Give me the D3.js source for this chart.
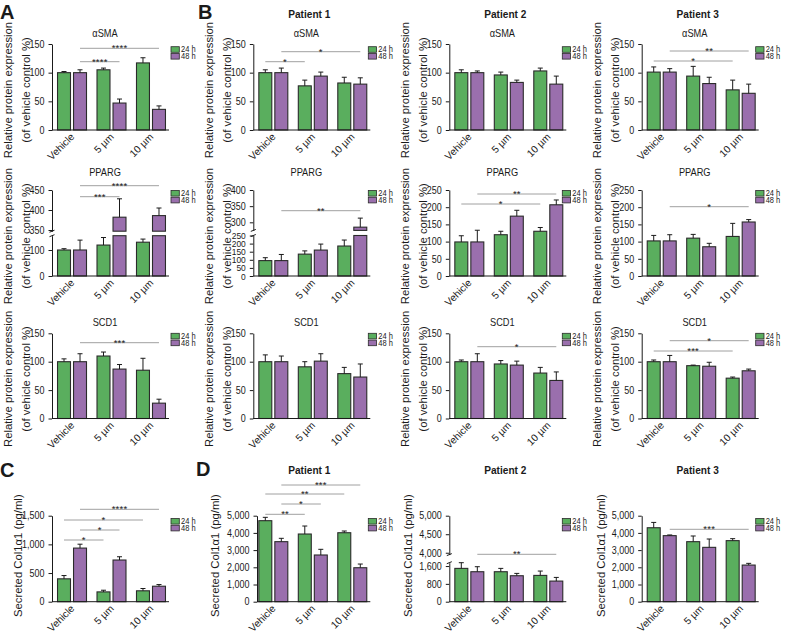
<!DOCTYPE html>
<html><head><meta charset="utf-8">
<script src="https://cdn.jsdelivr.net/npm/d3@7"></script>
<style>
body{margin:0;background:#fff}
svg{display:block}
text{font-family:"Liberation Sans",Arial,Helvetica,sans-serif;fill:#1a1a1a}
</style>
</head><body>
<svg id="c" width="787" height="639"></svg>
<script>
// ---------------- DATA ----------------
const categories = ["Vehicle", "5 µm", "10 µm"];
const seriesNames = ["24 h", "48 h"];
// means / errors: per category [24 h, 48 h]; sig: [fromBar, toBar, label], bar = categoryIndex*2 + seriesIndex
const A_aSMA_mean = [[100,100],[105,47],[117,36]];
const A_aSMA_err  = [[2,5],[3,7],[9,6]];
const A_aSMA_sig  = [[1,3,"****"],[1,5,"****"]];

const A_PPARG_mean = [[100,100],[119,382],[130,386]];
const A_PPARG_err  = [[5,38],[29,46],[12,19]];
const A_PPARG_sig  = [[1,3,"***"],[1,5,"****"]];

const A_SCD1_mean = [[100,100],[110,87],[85,27]];
const A_SCD1_err  = [[5,14],[7,8],[21,7]];
const A_SCD1_sig  = [[1,5,"***"]];

const P1_aSMA_mean = [[100,100],[77,94],[82,80]];
const P1_aSMA_err  = [[5,8],[10,7],[10,11]];
const P1_aSMA_sig  = [[0,2,"*"],[1,5,"*"]];

const P1_PPARG_mean = [[95,95],[135,160],[185,285]];
const P1_PPARG_err  = [[18,38],[20,37],[37,28]];
const P1_PPARG_sig  = [[1,5,"**"]];

const P1_SCD1_mean = [[100,100],[91,101],[79,73]];
const P1_SCD1_err  = [[12,10],[9,13],[11,23]];
const P1_SCD1_sig  = [];

const P2_aSMA_mean = [[100,100],[96,83],[103,80]];
const P2_aSMA_err  = [[5,3],[5,4],[5,14]];
const P2_aSMA_sig  = [];

const P2_PPARG_mean = [[99,99],[120,174],[130,207]];
const P2_PPARG_err  = [[18,34],[10,17],[11,14]];
const P2_PPARG_sig  = [[0,4,"*"],[1,5,"**"]];

const P2_SCD1_mean = [[100,100],[96,94],[80,67]];
const P2_SCD1_err  = [[3,14],[6,7],[10,15]];
const P2_SCD1_sig  = [[1,5,"*"]];

const P3_aSMA_mean = [[101,101],[94,81],[70,64]];
const P3_aSMA_err  = [[9,6],[17,11],[17,16]];
const P3_aSMA_sig  = [[0,4,"*"],[1,5,"**"]];

const P3_PPARG_mean = [[102,102],[110,85],[115,157]];
const P3_PPARG_err  = [[16,18],[11,10],[38,7]];
const P3_PPARG_sig  = [[1,5,"*"]];

const P3_SCD1_mean = [[100,100],[93,92],[71,84]];
const P3_SCD1_err  = [[3,11],[1,7],[2,3]];
const P3_SCD1_sig  = [[0,4,"***"],[1,5,"*"]];

const C_Col_mean = [[399,935],[171,727],[190,270]];
const C_Col_err  = [[57,68],[29,57],[40,29]];
const C_Col_sig  = [[0,2,"*"],[1,3,"*"],[0,4,"*"],[1,5,"****"]];

const D1_Col_mean = [[4710,3490],[3935,2715],[4010,1975]];
const D1_Col_err  = [[195,195],[465,330],[100,215]];
const D1_Col_sig  = [[0,2,"**"],[1,3,"*"],[0,4,"**"],[1,5,"***"]];

const D2_Col_mean = [[1495,1345],[1345,1165],[1180,925]];
const D2_Col_err  = [[255,225],[150,105],[195,165]];
const D2_Col_sig  = [[1,5,"**"]];

const D3_Col_mean = [[4300,3840],[3490,3160],[3550,2130]];
const D3_Col_err  = [[310,40],[330,485],[115,100]];
const D3_Col_sig  = [[1,5,"***"]];

const ticks150 = [0,50,100,150];
const ticks250 = [0,50,100,150,200,250];
const ticks5000 = [0,1000,2000,3000,4000,5000];
const ticksC = [0,500,1000,1500];

// ---------------- LAYOUT ----------------
const GREEN = "#5aae5e", PURPLE = "#9a6fad";
const colors = [GREEN, PURPLE];
const SX = 0.88; // horizontal condensation of the reference lettering
const colX = [52, 253.3, 449.3, 641.7];
const legendDX = [119, 115, 113, 114];
const rows = [
  {top:44, bottom:130, titleY:33.5, legY:46.7},
  {top:190, bottom:276, titleY:172.5, legY:190.5},
  {top:333.3, bottom:418.5, titleY:322, legY:333.3},
  {top:515.7, bottom:601.7, titleY:null, legY:518.5}
];
const ylabX1 = [18.3, 215, 407.5, 601];

const panels = [
  {row:0,col:0,title:"αSMA",mean:A_aSMA_mean,err:A_aSMA_err,sig:A_aSMA_sig,sigY:[61.7,48.3],max:150,ticks:ticks150},
  {row:1,col:0,title:"PPARG",mean:A_PPARG_mean,err:A_PPARG_err,sig:A_PPARG_sig,sigY:[196.7,185.7],
     broken:{lower:[0,155],lowerTop:235.7,upper:[347,450],upperBottom:231.2,lowerTicks:[0,100],upperTicks:[350,400,450]}},
  {row:2,col:0,title:"SCD1",mean:A_SCD1_mean,err:A_SCD1_err,sig:A_SCD1_sig,sigY:[342.7],max:150,ticks:ticks150},
  {row:0,col:1,title:"αSMA",mean:P1_aSMA_mean,err:P1_aSMA_err,sig:P1_aSMA_sig,sigY:[61.7,51.7],max:150,ticks:ticks150},
  {row:1,col:1,title:"PPARG",mean:P1_PPARG_mean,err:P1_PPARG_err,sig:P1_PPARG_sig,sigY:[210.7],
     broken:{lower:[0,250],lowerTop:235.5,upper:[275,400],upperBottom:230.4,lowerTicks:ticks250,upperTicks:[300,350,400]}},
  {row:2,col:1,title:"SCD1",mean:P1_SCD1_mean,err:P1_SCD1_err,sig:P1_SCD1_sig,sigY:[],max:150,ticks:ticks150},
  {row:0,col:2,title:"αSMA",mean:P2_aSMA_mean,err:P2_aSMA_err,sig:P2_aSMA_sig,sigY:[],max:150,ticks:ticks150},
  {row:1,col:2,title:"PPARG",mean:P2_PPARG_mean,err:P2_PPARG_err,sig:P2_PPARG_sig,sigY:[204,194],max:250,ticks:ticks250},
  {row:2,col:2,title:"SCD1",mean:P2_SCD1_mean,err:P2_SCD1_err,sig:P2_SCD1_sig,sigY:[346.7],max:150,ticks:ticks150},
  {row:0,col:3,title:"αSMA",mean:P3_aSMA_mean,err:P3_aSMA_err,sig:P3_aSMA_sig,sigY:[61,51],max:150,ticks:ticks150},
  {row:1,col:3,title:"PPARG",mean:P3_PPARG_mean,err:P3_PPARG_err,sig:P3_PPARG_sig,sigY:[206.7],max:250,ticks:ticks250},
  {row:2,col:3,title:"SCD1",mean:P3_SCD1_mean,err:P3_SCD1_err,sig:P3_SCD1_sig,sigY:[351,340.7],max:150,ticks:ticks150},
  {row:3,col:0,mean:C_Col_mean,err:C_Col_err,sig:C_Col_sig,sigY:[540,530,520,509.3],max:1500,ticks:ticksC,fmt:","},
  {row:3,col:1,axisX:257,mean:D1_Col_mean,err:D1_Col_err,sig:D1_Col_sig,sigY:[514.3,504,494,485],max:5000,ticks:ticks5000,fmt:","},
  {row:3,col:2,mean:D2_Col_mean,err:D2_Col_err,sig:D2_Col_sig,sigY:[554.3],fmt:",",
     broken:{lower:[0,1750],lowerTop:562.7,upper:[3950,5000],upperBottom:554.6,lowerTicks:[0,800,1600],upperTicks:[4000,4500,5000]}},
  {row:3,col:3,mean:D3_Col_mean,err:D3_Col_err,sig:D3_Col_sig,sigY:[529.3],max:5000,ticks:ticks5000,fmt:","}
];

const svg = d3.select("#c");
const AX = "#1a1a1a";

function htext(g, x, y, str, size, anchor, weight) {
  return g.append("text").attr("transform", `translate(${x},${y}) scale(${SX},1)`)
    .attr("text-anchor", anchor || "middle").attr("dominant-baseline", "central")
    .attr("font-size", size).attr("font-weight", weight || "normal").text(str);
}

function styleAxis(sel, size) {
  sel.select(".domain").attr("stroke", AX);
  sel.selectAll(".tick line").attr("stroke", AX);
  sel.selectAll(".tick text").attr("font-size", size || 10.2).attr("fill", "#222")
    .attr("font-family", '"Liberation Sans",Arial,sans-serif')
    .attr("x", -7.5 / SX).attr("transform", `scale(${SX},1)`);
}

function drawPanel(p) {
  const r = rows[p.row], cx = colX[p.col];
  const ax = p.axisX !== undefined ? p.axisX : cx;
  const g = svg.append("g");
  const x0 = d3.scaleBand().domain(categories).range([cx, cx + 119]).paddingInner(0.266).paddingOuter(0.14);
  const x1 = d3.scaleBand().domain(seriesNames).range([0, x0.bandwidth()]).paddingInner(0.19);
  const fmt = p.fmt ? d3.format(p.fmt) : d3.format("d");

  let yv, lowerS, upperS;
  if (p.broken) {
    const b = p.broken;
    lowerS = d3.scaleLinear().domain(b.lower).range([r.bottom, b.lowerTop]);
    upperS = d3.scaleLinear().domain(b.upper).range([b.upperBottom, r.top]);
    yv = v => v >= b.upper[0] ? upperS(v) : lowerS(Math.min(v, b.lower[1]));
    const dense = b.lowerTicks.length > 4 ? 9.6 : 10.2;
    styleAxis(g.append("g").attr("transform", `translate(${ax},0)`)
      .call(d3.axisLeft(lowerS).tickValues(b.lowerTicks).tickFormat(fmt).tickSize(3.5).tickSizeOuter(0)), dense);
    styleAxis(g.append("g").attr("transform", `translate(${ax},0)`)
      .call(d3.axisLeft(upperS).tickValues(b.upperTicks).tickFormat(fmt).tickSize(3.5).tickSizeOuter(0)));
    [b.lowerTop, b.upperBottom].forEach(yy => {
      g.append("line").attr("x1", ax - 2.5).attr("x2", ax + 2.5).attr("y1", yy + 1).attr("y2", yy - 1)
        .attr("stroke", AX).attr("stroke-width", 1);
    });
  } else {
    const y = d3.scaleLinear().domain([0, p.max]).range([r.bottom, r.top]);
    yv = y;
    styleAxis(g.append("g").attr("transform", `translate(${ax},0)`)
      .call(d3.axisLeft(y).tickValues(p.ticks).tickFormat(fmt).tickSize(3.5).tickSizeOuter(0)));
  }

  const bars = [];
  categories.forEach((c, ci) => seriesNames.forEach((s, si) => {
    bars.push({c, s, si, v: p.mean[ci][si], e: p.err[ci][si], x: x0(c) + x1(s), w: x1.bandwidth()});
  }));
  bars.forEach(d => {
    const segs = [];
    if (p.broken && d.v >= p.broken.upper[0]) {
      segs.push([lowerS(0), lowerS(p.broken.lower[1])]);
      segs.push([upperS(p.broken.upper[0]), upperS(d.v)]);
    } else {
      segs.push([yv(0), yv(d.v)]);
    }
    segs.forEach(([y0, y1]) => {
      g.append("rect").attr("x", d.x).attr("y", y1).attr("width", d.w).attr("height", y0 - y1)
        .attr("fill", colors[d.si]).attr("stroke", "#2b2b2b").attr("stroke-width", 1.1);
    });
    const xc = d.x + d.w / 2;
    const yTop = yv(d.v + d.e), yBar = yv(d.v);
    g.append("line").attr("x1", xc).attr("x2", xc).attr("y1", yBar).attr("y2", yTop)
      .attr("stroke", "#1a1a1a").attr("stroke-width", 1);
    g.append("line").attr("x1", xc - 2.5).attr("x2", xc + 2.5).attr("y1", yTop).attr("y2", yTop)
      .attr("stroke", "#1a1a1a").attr("stroke-width", 1);
  });

  g.append("line").attr("x1", ax).attr("x2", cx + 117).attr("y1", r.bottom).attr("y2", r.bottom)
    .attr("stroke", AX).attr("stroke-width", 1);
  categories.forEach(c => {
    const gc = x0(c) + x0.bandwidth() / 2;
    g.append("text").attr("transform", `translate(${gc + 3},${r.bottom + 7.5}) rotate(-45)`)
      .attr("text-anchor", "end").attr("font-size", 10.2).text(c);
  });

  p.sig.forEach((s, i) => {
    const xa = bars[s[0]].x + bars[s[0]].w / 2, xb = bars[s[1]].x + bars[s[1]].w / 2;
    const yy = p.sigY[i];
    g.append("line").attr("x1", xa).attr("x2", xb).attr("y1", yy).attr("y2", yy)
      .attr("stroke", "#a0a0a0").attr("stroke-width", 1);
    g.append("text").attr("x", (xa + xb) / 2).attr("y", yy + 2.8).attr("text-anchor", "middle")
      .attr("font-size", 9.5).attr("letter-spacing", 0.2).text(s[2]);
  });

  if (p.title) htext(g, cx + 53, r.titleY, p.title, 10.5, "middle");

  const lx = cx + legendDX[p.col];
  seriesNames.forEach((s, i) => {
    const ly = r.legY + i * 6.8;
    g.append("rect").attr("x", lx).attr("y", ly).attr("width", 8.3).attr("height", 5.6)
      .attr("fill", colors[i]).attr("stroke", "#2b2b2b").attr("stroke-width", 0.8);
    htext(g, lx + 10, ly + 2.9, s, 8.5, "start");
  });

  const yc = (r.top + r.bottom) / 2 + 3;
  if (p.row < 3) {
    ["Relative protein expression", "(of vehicle control %)"].forEach((t, i) => {
      g.append("text").attr("transform", `translate(${ax + (i === 0 ? -44.5 : -26.5)},${yc}) rotate(-90)`)
        .attr("text-anchor", "middle").attr("dominant-baseline", "central").attr("font-size", 11.3).text(t);
    });
  } else {
    g.append("text").attr("transform", `translate(${ylabX1[p.col]},${yc - 6}) rotate(-90)`)
      .attr("text-anchor", "middle").attr("dominant-baseline", "central").attr("font-size", 11.3).text("Secreted Col1α1 (pg/ml)");
  }
}

panels.forEach(drawPanel);

const patientTitles = ["Patient 1", "Patient 2", "Patient 3"];
[13.5, 470].forEach(yy => patientTitles.forEach((t, i) => {
  htext(svg, colX[i + 1] + 56, yy, t, 11.5, "middle", "bold");
}));

const panelLetters = ["A", "B", "C", "D"];
[[0, 18.5], [198, 18.5], [0, 477], [196, 476]].forEach((pos, i) => {
  svg.append("text").attr("x", pos[0]).attr("y", pos[1]).attr("font-size", 20).attr("font-weight", "bold")
    .text(panelLetters[i]);
});
</script>
</body></html>
